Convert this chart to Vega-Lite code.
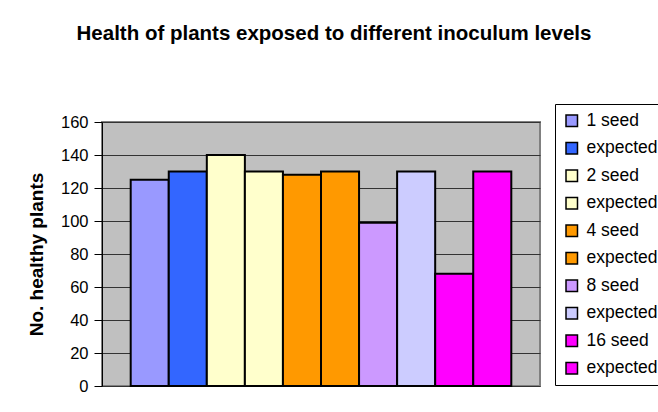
{
  "$schema": "https://vega.github.io/schema/vega-lite/v6.json",
  "width": 438,
  "height": 264,
  "autosize": "none",
  "padding": {"left": 102, "top": 122, "right": 118, "bottom": 26},
  "background": "white",
  "title": {
    "text": "Health of plants exposed to different inoculum levels",
    "font": "Liberation Sans",
    "fontSize": 20.5,
    "fontWeight": "bold",
    "color": "black",
    "anchor": "middle",
    "dx": 13,
    "offset": 59
  },
  "data": {
    "values": [
      {"series": "1 seed", "plants": 125},
      {"series": "expected 1", "plants": 130},
      {"series": "2 seed", "plants": 140},
      {"series": "expected 2", "plants": 130},
      {"series": "4 seed", "plants": 128},
      {"series": "expected 4", "plants": 130},
      {"series": "8 seed", "plants": 99},
      {"series": "expected 8", "plants": 130},
      {"series": "16 seed", "plants": 68},
      {"series": "expected 16", "plants": 130}
    ]
  },
  "mark": {"type": "bar", "stroke": "black", "strokeWidth": 2},
  "encoding": {
    "x": {
      "field": "series",
      "type": "nominal",
      "sort": null,
      "axis": null,
      "scale": {"paddingInner": 0, "paddingOuter": 0.754}
    },
    "y": {
      "field": "plants",
      "type": "quantitative",
      "scale": {"domain": [0, 160], "nice": false},
      "axis": {
        "title": "No. healthy plants",
        "values": [0, 20, 40, 60, 80, 100, 120, 140, 160],
        "labelFont": "Liberation Sans",
        "labelFontSize": 16.5,
        "labelColor": "black",
        "labelPadding": 6,
        "tickSize": 8,
        "tickColor": "black",
        "tickWidth": 1,
        "domainColor": "black",
        "domainWidth": 1,
        "gridColor": "#333333",
        "gridWidth": 1,
        "titleFont": "Liberation Sans",
        "titleFontSize": 19,
        "titleFontWeight": "bold",
        "titleColor": "black",
        "titlePadding": 14
      }
    },
    "color": {
      "field": "series",
      "type": "nominal",
      "scale": {
        "domain": ["1 seed", "expected 1", "2 seed", "expected 2", "4 seed", "expected 4", "8 seed", "expected 8", "16 seed", "expected 16"],
        "range": ["#9999FF", "#3366FF", "#FFFFCC", "#FFFFCC", "#FF9900", "#FF9900", "#CC99FF", "#CCCCFF", "#FF00FF", "#FF00FF"]
      },
      "legend": {
        "title": null,
        "orient": "none",
        "legendX": 453,
        "legendY": -18,
        "labelExpr": "indexof(datum.label, 'expected') == 0 ? 'expected' : datum.label",
        "symbolType": "square",
        "symbolSize": 132,
        "symbolStrokeColor": "black",
        "symbolStrokeWidth": 1.5,
        "symbolOpacity": 1,
        "labelFont": "Liberation Sans",
        "labelFontSize": 17.5,
        "labelColor": "black",
        "labelOffset": 6,
        "rowPadding": 8.5,
        "padding": 8,
        "strokeColor": "black",
        "fillColor": "white",
        "labelLimit": 200
      }
    }
  },
  "config": {
    "view": {"fill": "#C0C0C0", "stroke": "#808080", "strokeWidth": 2},
    "legend": {"strokeWidth": 1}
  }
}
